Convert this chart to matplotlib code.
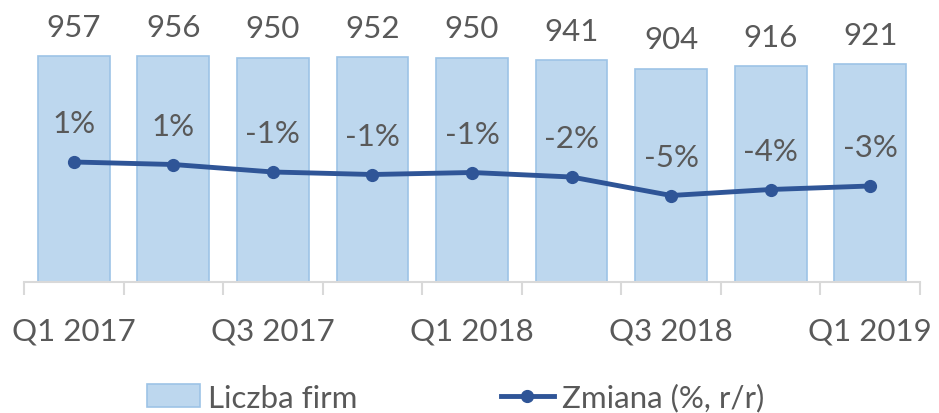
import numpy as np
import matplotlib.pyplot as plt
from matplotlib.ticker import FixedLocator

plt.rcParams['font.family'] = ['Lato', 'DejaVu Sans']

kwartaly = ["Q1 2017", "Q2 2017", "Q3 2017", "Q4 2017", "Q1 2018",
            "Q2 2018", "Q3 2018", "Q4 2018", "Q1 2019"]
liczba_firm = [957, 956, 950, 952, 950, 941, 904, 916, 921]
zmiana = [1.4, 0.9, -0.6, -1.1, -0.7, -1.6, -5.3, -4.1, -3.4]

szary = "#595959"
fs = 22.5
x = np.arange(len(kwartaly))

fig = plt.figure(figsize=(9.39, 4.14), dpi=100)
ax = fig.add_axes([24/939, 1 - 283/414, 896/939, 273/414])

slupki = ax.bar(x, liczba_firm, width=0.72, color="#BDD7EE",
                edgecolor="#9DC3E6", linewidth=1.2, label="Liczba firm")
ax.set_ylim(0, 1156)
ax.set_xlim(-0.5, len(kwartaly) - 0.5)

for xi, v in zip(x, liczba_firm):
    ax.annotate(f"{v}", (xi, v), xytext=(0, 21), textcoords="offset points",
                ha="center", va="center", fontsize=fs, color=szary)

# druga oś dla zmiany r/r
ax2 = ax.twinx()
ax2.set_ylim(-22.6, 32.0)
ax2.plot(x, zmiana, color="#2F5597", linewidth=3.5, marker="o",
         markersize=8.5, label="Zmiana (%, r/r)")
for xi, v in zip(x, zmiana):
    ax2.annotate(f"{v:.0f}%", (xi, v), xytext=(0, 28), textcoords="offset points",
                 ha="center", va="center", fontsize=fs, color=szary)

for a in (ax, ax2):
    for s in ("top", "right", "left"):
        a.spines[s].set_visible(False)
    a.set_yticks([])
ax.spines["bottom"].set_color("#D9D9D9")
ax.spines["bottom"].set_linewidth(1.5)
ax2.spines["bottom"].set_visible(False)

ax.set_xticks(x[::2])
ax.set_xticklabels(kwartaly[::2], fontsize=fs, color=szary)
ax.tick_params(axis="x", which="major", length=0, pad=25)
ax.xaxis.set_minor_locator(FixedLocator(np.arange(-0.5, len(kwartaly), 1.0)))
ax.tick_params(axis="x", which="minor", length=9, width=1.5, color="#D9D9D9")

h1, l1 = ax.get_legend_handles_labels()
h2, l2 = ax2.get_legend_handles_labels()
fig.legend(h1 + h2, l1 + l2, loc="lower center", bbox_to_anchor=(0.485, -0.065),
           ncol=2, frameon=False, fontsize=fs, labelcolor=szary,
           handlelength=1.7, handleheight=0.75, handletextpad=0.25,
           columnspacing=4.6)

fig.savefig("out.png", dpi=100)
